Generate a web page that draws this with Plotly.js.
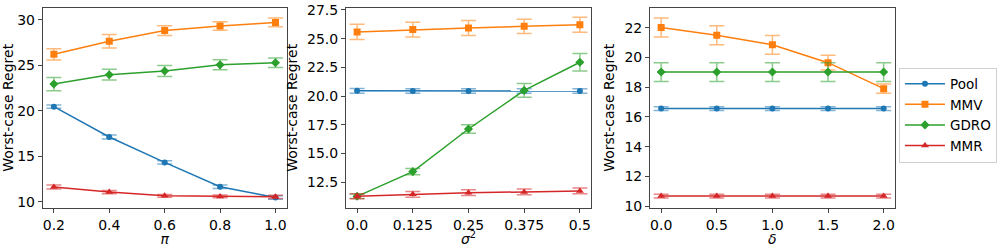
<!DOCTYPE html>
<html><head><meta charset="utf-8">
<script src="https://cdn.plot.ly/plotly-3.0.1.min.js"></script>
<style>body{margin:0;background:#fff}#c{width:997px;height:247px}</style>
</head><body><div id="c"></div>
<script>
// Panel 1: x = pi
const piX = [0.2, 0.4, 0.6, 0.8, 1.0];
const piTickText = ["0.2", "0.4", "0.6", "0.8", "1.0"];
const piPool = [20.45, 17.12, 14.33, 11.66, 10.48];
const piPoolErr = [0.18, 0.22, 0.18, 0.18, 0.18];
const piMMV = [26.2, 27.63, 28.8, 29.3, 29.7];
const piMMVErr = [0.62, 0.73, 0.53, 0.46, 0.48];
const piGDRO = [22.93, 23.96, 24.36, 25.04, 25.27];
const piGDROErr = [0.73, 0.59, 0.6, 0.55, 0.51];
const piMMR = [11.62, 11.07, 10.66, 10.6, 10.55];
const piMMRErr = [0.22, 0.18, 0.15, 0.15, 0.18];

// Panel 2: x = sigma^2
const sgX = [0.0, 0.125, 0.25, 0.375, 0.5];
const sgTickText = ["0.0", "0.125", "0.25", "0.375", "0.5"];
const sgPool = [20.46, 20.45, 20.45, 20.45, 20.44];
const sgPoolErr = [0.2, 0.2, 0.2, 0.2, 0.2];
const sgMMV = [25.59, 25.79, 25.93, 26.08, 26.22];
const sgMMVErr = [0.67, 0.64, 0.65, 0.62, 0.65];
const sgGDRO = [11.28, 13.43, 17.14, 20.5, 22.95];
const sgGDROErr = [0.2, 0.28, 0.36, 0.6, 0.77];
const sgMMR = [11.28, 11.46, 11.6, 11.66, 11.75];
const sgMMRErr = [0.22, 0.25, 0.25, 0.25, 0.25];

// Panel 3: x = delta
const dX = [0.0, 0.5, 1.0, 1.5, 2.0];
const dTickText = ["0.0", "0.5", "1.0", "1.5", "2.0"];
const dPool = [16.56, 16.56, 16.56, 16.56, 16.56];
const dPoolErr = [0.12, 0.12, 0.12, 0.12, 0.12];
const dMMV = [22.02, 21.5, 20.85, 19.65, 17.9];
const dMMVErr = [0.64, 0.64, 0.63, 0.5, 0.31];
const dGDRO = [19.02, 19.02, 19.02, 19.02, 19.02];
const dGDROErr = [0.63, 0.63, 0.63, 0.63, 0.63];
const dMMR = [10.67, 10.67, 10.67, 10.67, 10.67];
const dMMRErr = [0.12, 0.12, 0.12, 0.12, 0.12];

const names = ["Pool", "MMV", "GDRO", "MMR"];
const colors = ["#1f77b4", "#ff7f0e", "#2ca02c", "#d62728"];
const errColors = ["rgba(31,119,180,0.55)", "rgba(255,127,14,0.55)", "rgba(44,160,44,0.55)", "rgba(214,39,40,0.55)"];
const symbols = ["circle", "square", "diamond", "triangle-up"];
const msizes = [6, 7, 7, 7];

const panels = [
  {x: piX, ys: [piPool, piMMV, piGDRO, piMMR], es: [piPoolErr, piMMVErr, piGDROErr, piMMRErr]},
  {x: sgX, ys: [sgPool, sgMMV, sgGDRO, sgMMR], es: [sgPoolErr, sgMMVErr, sgGDROErr, sgMMRErr]},
  {x: dX, ys: [dPool, dMMV, dGDRO, dMMR], es: [dPoolErr, dMMVErr, dGDROErr, dMMRErr]}
];

const traces = [];
panels.forEach((p, pi) => {
  for (let k = 0; k < 4; k++) {
    traces.push({
      x: p.x, y: p.ys[k], type: 'scatter', mode: 'lines+markers',
      name: names[k], legendgroup: names[k], showlegend: pi === 0,
      xaxis: pi === 0 ? 'x' : 'x' + (pi + 1), yaxis: pi === 0 ? 'y' : 'y' + (pi + 1),
      line: {color: colors[k], width: 1.5},
      marker: {color: colors[k], symbol: symbols[k], size: msizes[k]},
      error_y: {type: 'data', array: p.es[k], visible: true, color: errColors[k], thickness: 1.5, width: 7.5}
    });
  }
});

const F = {family: 'DejaVu Sans, sans-serif', size: 14, color: '#000'};
const yTop = 1 - 8 / 247, yBot = 1 - 207.7 / 247;
function xa(dom, range, vals, text, title, standoff) {
  return {domain: dom, range: range, tickvals: vals, ticktext: text, showgrid: false, zeroline: false,
    showline: true, mirror: true, linecolor: '#444', linewidth: 1, ticks: 'outside', ticklen: 4, tickcolor: '#444',
    tickfont: F, title: {text: title, font: {family: 'DejaVu Sans, sans-serif', size: 14}, standoff: standoff}};
}
function ya(range, dtick, fmt, anchor) {
  return {domain: [yBot, yTop], range: range, dtick: dtick, tickformat: fmt, showgrid: false, zeroline: false,
    showline: true, mirror: true, linecolor: '#444', linewidth: 1, ticks: 'outside', ticklen: 4, tickcolor: '#444',
    tickfont: F, anchor: anchor, title: {text: 'Worst-case Regret', font: F, standoff: 6}};
}

const layout = {
  width: 997, height: 247, margin: {l: 0, r: 0, t: 0, b: 0},
  paper_bgcolor: '#fff', plot_bgcolor: '#fff', font: F,
  xaxis: xa([43 / 997, 288 / 997], [0.16, 1.04], piX, piTickText, '<i>π</i>', 4),
  xaxis2: Object.assign(xa([347.7 / 997, 594 / 997], [-0.025, 0.525], sgX, sgTickText, '<i>σ</i><sup>2</sup>', 7), {anchor: 'y2'}),
  xaxis3: Object.assign(xa([653.3 / 997, 899.3 / 997], [-0.1, 2.1], dX, dTickText, '<i>δ</i>', 4), {anchor: 'y3'}),
  yaxis: ya([9.36, 31.28], 5, 'd', 'x'),
  yaxis2: ya([10.29, 27.67], 2.5, '.1f', 'x2'),
  yaxis3: ya([9.89, 23.33], 2, 'd', 'x3'),
  showlegend: true,
  legend: {x: 903.5 / 997, y: 1 - 67.5 / 247, xanchor: 'left', yanchor: 'top', bordercolor: '#d0d0d0', borderwidth: 1,
    bgcolor: '#fff', font: {family: 'DejaVu Sans, sans-serif', size: 13.5, color: '#000'}, tracegroupgap: 0, itemwidth: 40}
};
Plotly.newPlot('c', traces, layout, {staticPlot: true, displayModeBar: false});
</script></body></html>
